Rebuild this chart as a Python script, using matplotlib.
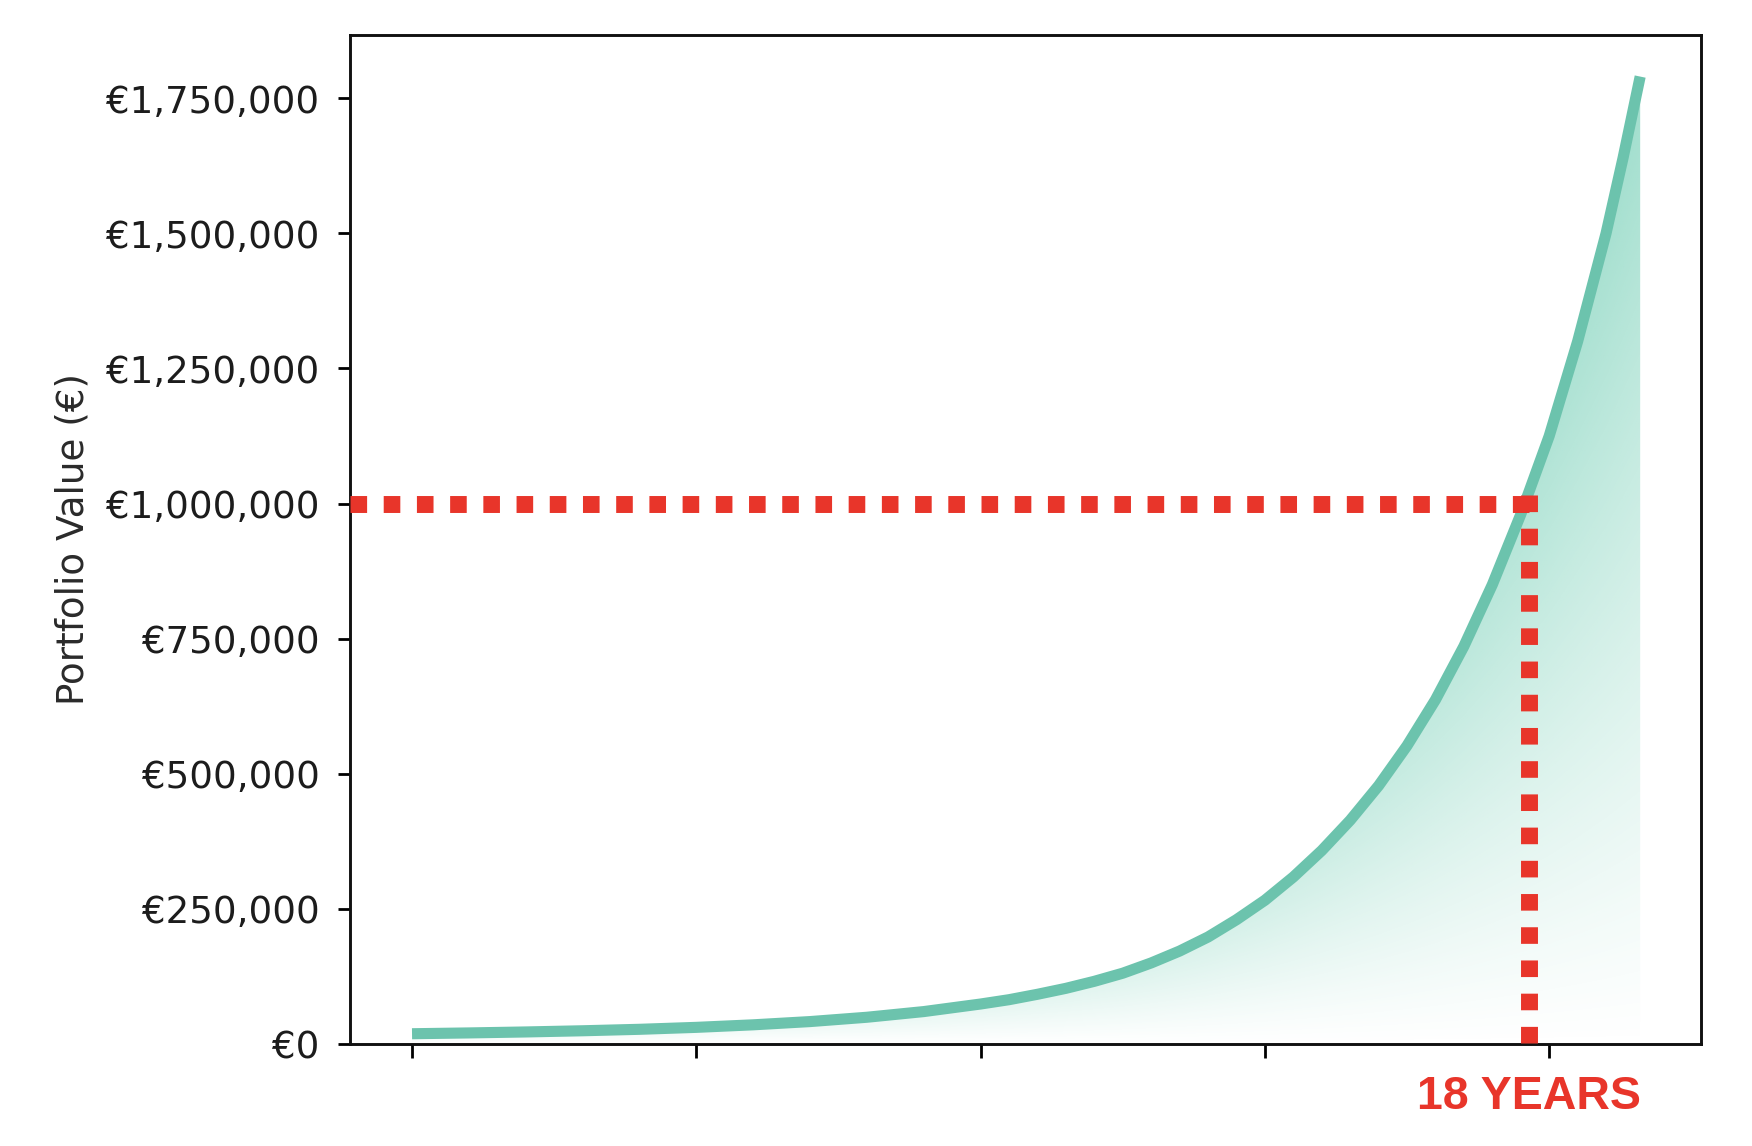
import numpy as np
import matplotlib
matplotlib.use('Agg')  # backend sem janela
import matplotlib.pyplot as plt
from matplotlib.patches import Polygon
from matplotlib.ticker import FuncFormatter

# --- dados (anos desde o início, valor da carteira em €) ---
years = [0, 1, 2, 3, 4, 5, 6, 7, 8, 9, 10, 10.5, 11, 11.5, 12, 12.5, 13, 13.5, 14, 14.5, 15,
         15.5, 16, 16.5, 17, 17.5, 18, 18.5, 19, 19.5, 20, 20.5, 21, 21.3, 21.6]
portfolio = [19000, 20500, 22300, 24500, 27200, 30800, 35500, 41500, 49500, 60000,
             74000, 82000, 92000, 103000, 116000, 131000, 150000, 172000, 198000, 230000,
             266000, 309000, 358000, 414000, 478000, 552000, 637000, 736000, 850000,
             980000, 1125000, 1300000, 1500000, 1640000, 1790000]
y_ticks = [0, 250000, 500000, 750000, 1000000, 1250000, 1500000, 1750000]
x_ticks = [0, 5, 10, 15, 20]
target_value = 1000000
target_year = 19.65
target_label = '18 YEARS'

LINE_COLOR = '#6cc3ad'
FILL_RGB = (111 / 255, 205 / 255, 179 / 255)
RED = '#e8352a'


def main():
    fig = plt.figure(figsize=(17.52, 11.46), dpi=100)
    ax = fig.add_axes([0.1998, 0.0890, 0.7711, 0.8805])

    x = np.array(years, dtype=float)
    y = np.array(portfolio, dtype=float)
    x0, x1 = -1.09, 22.67
    y_top = 1867000
    ax.set_xlim(x0, x1)
    ax.set_ylim(0, y_top)

    # --- preenchimento em gradiente por baixo da curva ---
    nx, ny = 500, 500
    gx = np.linspace(x[0], x[-1], nx)
    gy = np.linspace(0, y[-1], ny)
    cx = np.interp(gx, x, y)
    ratio = np.clip(gy[:, None] / cx[None, :], 0, 1)
    alpha = 0.66 * ratio ** 1.05 * (cx[None, :] / y[-1]) ** 0.38
    rgba = np.zeros((ny, nx, 4))
    rgba[..., 0], rgba[..., 1], rgba[..., 2] = FILL_RGB
    rgba[..., 3] = alpha
    im = ax.imshow(rgba, extent=[x[0], x[-1], 0, y[-1]], origin='lower',
                   aspect='auto', interpolation='bilinear', zorder=1)
    verts = np.column_stack([np.r_[x, x[::-1]], np.r_[y, np.zeros_like(y)]])
    clip = Polygon(verts, closed=True, facecolor='none', edgecolor='none')
    ax.add_patch(clip)
    im.set_clip_path(clip)

    # --- curva principal ---
    ax.plot(x, y, color=LINE_COLOR, linewidth=8, solid_capstyle='butt',
            solid_joinstyle='round', zorder=3)

    # --- linhas pontilhadas até ao milhão ---
    dot_lw = 12.2
    half_px = dot_lw / 72 * fig.dpi / 2
    bbox = ax.get_window_extent()
    dx = half_px * (x1 - x0) / bbox.width
    dy = half_px * y_top / bbox.height
    dots = (0, (0.98, 0.98))
    ax.plot([x0, target_year + dx], [target_value, target_value], color=RED,
            linewidth=dot_lw, linestyle=dots, dash_capstyle='butt', zorder=4,
            clip_on=False)
    ax.plot([target_year, target_year], [target_value + dy, 0], color=RED,
            linewidth=dot_lw, linestyle=dots, dash_capstyle='butt', zorder=4,
            clip_on=False)

    ax.annotate(target_label, xy=(target_year, -0.053),
                xycoords=('data', 'axes fraction'), ha='center', va='center',
                fontsize=33.5, fontweight='bold', color=RED,
                family=['Liberation Sans Narrow', 'Liberation Sans', 'DejaVu Sans'],
                annotation_clip=False)

    # --- eixos ---
    ax.set_yticks(y_ticks)
    ax.set_xticks(x_ticks)
    ax.set_xticklabels([''] * len(x_ticks))
    ax.yaxis.set_major_formatter(FuncFormatter(lambda v, p: f'€{v:,.0f}'))
    ax.tick_params(axis='y', labelsize=26.7, length=9, width=2, pad=13,
                   labelcolor='#1c1c1c')
    ax.tick_params(axis='x', length=10, width=2)
    for s in ax.spines.values():
        s.set_linewidth(2.1)
        s.set_color('#111111')

    ax.set_ylabel('Portfolio Value (€)', fontsize=26.8, color='#2a2a2a')
    ax.yaxis.set_label_coords(-0.1915, 0.5)

    fig.savefig('out.png', dpi=100, facecolor='white')
    plt.close(fig)


if __name__ == '__main__':
    main()
